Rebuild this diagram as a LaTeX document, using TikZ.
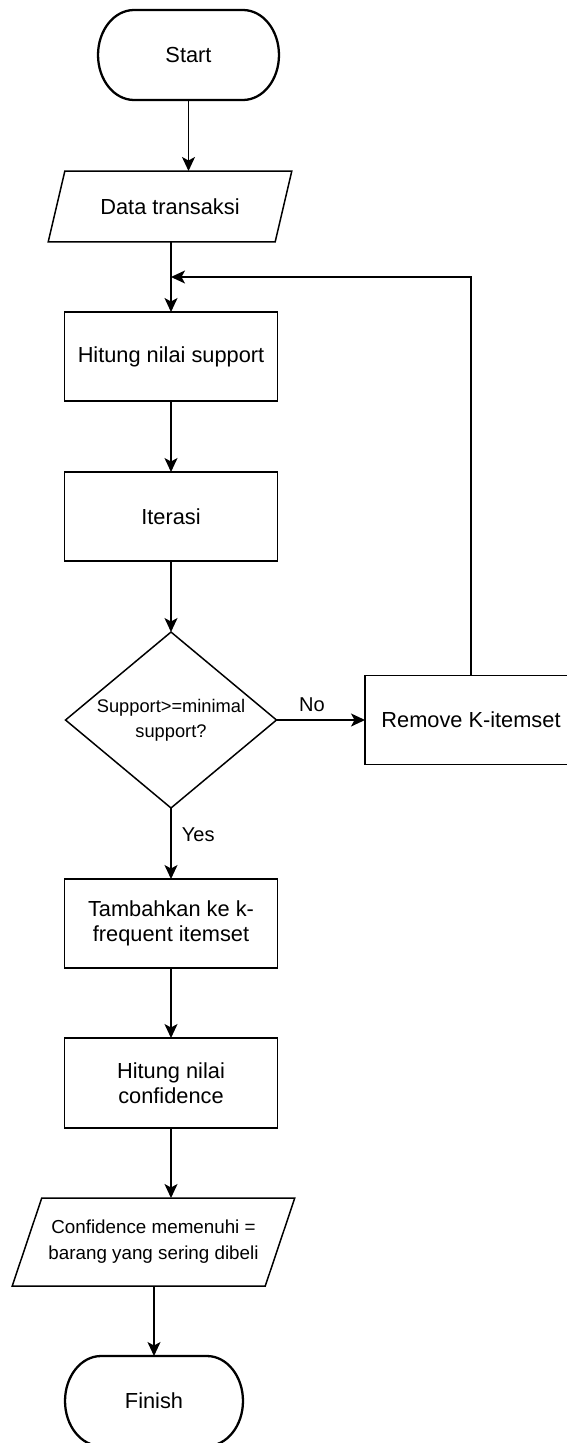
\documentclass[tikz,border=0pt]{standalone}
\usepackage{fontspec}
\setmainfont{Liberation Sans}
\usetikzlibrary{shapes.geometric,arrows.meta}
\begin{document}
\begin{tikzpicture}[x=0.02cm,y=-0.02cm,
  every node/.style={font=\fontsize{12.4pt}{14.2pt}\selectfont, outer sep=0pt},
  term/.style={rectangle, minimum height=1.8cm, inner sep=0pt},
  termline/.style={line width=1.3pt},
  proc/.style={draw, line width=0.85pt, rectangle, minimum width=4.26cm, minimum height=1.78cm, align=center, inner sep=0pt},
  io/.style={draw, line width=0.85pt, trapezium, trapezium stretches=true, align=center, inner sep=0pt},
  dec/.style={draw, line width=0.85pt, diamond, shape aspect=1.2, minimum width=4.22cm, minimum height=3.52cm, align=center, inner sep=1pt,
    font=\fontsize{10.4pt}{14pt}\selectfont},
  lbl/.style={font=\fontsize{11.4pt}{13pt}\selectfont},
  arr/.style={line width=0.85pt, -{Stealth[length=0.28cm, width=0.26cm, inset=0.07cm]}}
]
\clip (0,0) rectangle (567,1443);
\fill[white] (0,0) rectangle (567,1443);

\node[term, minimum width=3.62cm] (start) at (188.5,55) {Start};
\draw[termline] ([xshift=0.72cm]start.north west) -- ([xshift=-0.72cm]start.north east)
  arc[start angle=90, end angle=-90, x radius=0.72cm, y radius=0.9cm]
  -- ([xshift=0.72cm]start.south west)
  arc[start angle=270, end angle=90, x radius=0.72cm, y radius=0.9cm] -- cycle;
\node[io, trapezium left angle=55.4, trapezium right angle=124.6, minimum width=4.92cm, minimum height=1.42cm] (dt) at (170,206.5) {Data transaksi};
\node[proc] (hs) at (171,356.5) {Hitung nilai support};
\node[proc] (it) at (171,516.5) {Iterasi};
\node[dec] (dia) at (171,720) {Support>=minimal\\support?};
\node[proc, minimum width=4.24cm] (rm) at (471,720) {Remove K-itemset};
\node[proc] (ta) at (171,923.5) {Tambahkan ke k-\\frequent itemset};
\node[proc, minimum height=1.8cm] (hc) at (171,1083) {Hitung nilai\\confidence};
\node[io, trapezium left angle=57.5, trapezium right angle=122.5, minimum width=5.66cm, minimum height=1.76cm,
  font=\fontsize{10.7pt}{14.8pt}\selectfont] (conf) at (153.5,1242) {Confidence memenuhi =\\barang yang sering dibeli};
\node[term, minimum width=3.56cm] (fin) at (154,1401) {Finish};
\draw[termline] ([xshift=0.72cm]fin.north west) -- ([xshift=-0.72cm]fin.north east)
  arc[start angle=90, end angle=-90, x radius=0.72cm, y radius=0.9cm]
  -- ([xshift=0.72cm]fin.south west)
  arc[start angle=270, end angle=90, x radius=0.72cm, y radius=0.9cm] -- cycle;
\coordinate (j) at (171,277);

\draw[arr] (start.south) -- (start.south |- dt.north);
\draw[arr] (dt.south -| hs.north) -- (hs.north);
\draw[arr] (hs.south) -- (it.north);
\draw[arr] (it.south) -- (dia.north);
\draw[arr] (dia.south) -- node[lbl, right, pos=0.38, xshift=0.1cm] {Yes} (ta.north);
\draw[arr] (dia.east) -- node[lbl, above, pos=0.4, yshift=0.05cm] {No} (rm.west);
\draw[arr] (rm.north) |- (j);
\draw[arr] (ta.south) -- (hc.north);
\draw[arr] (hc.south) -- (hc.south |- conf.north);
\draw[arr] (conf.south -| fin.north) -- (fin.north);
\end{tikzpicture}
\end{document}
